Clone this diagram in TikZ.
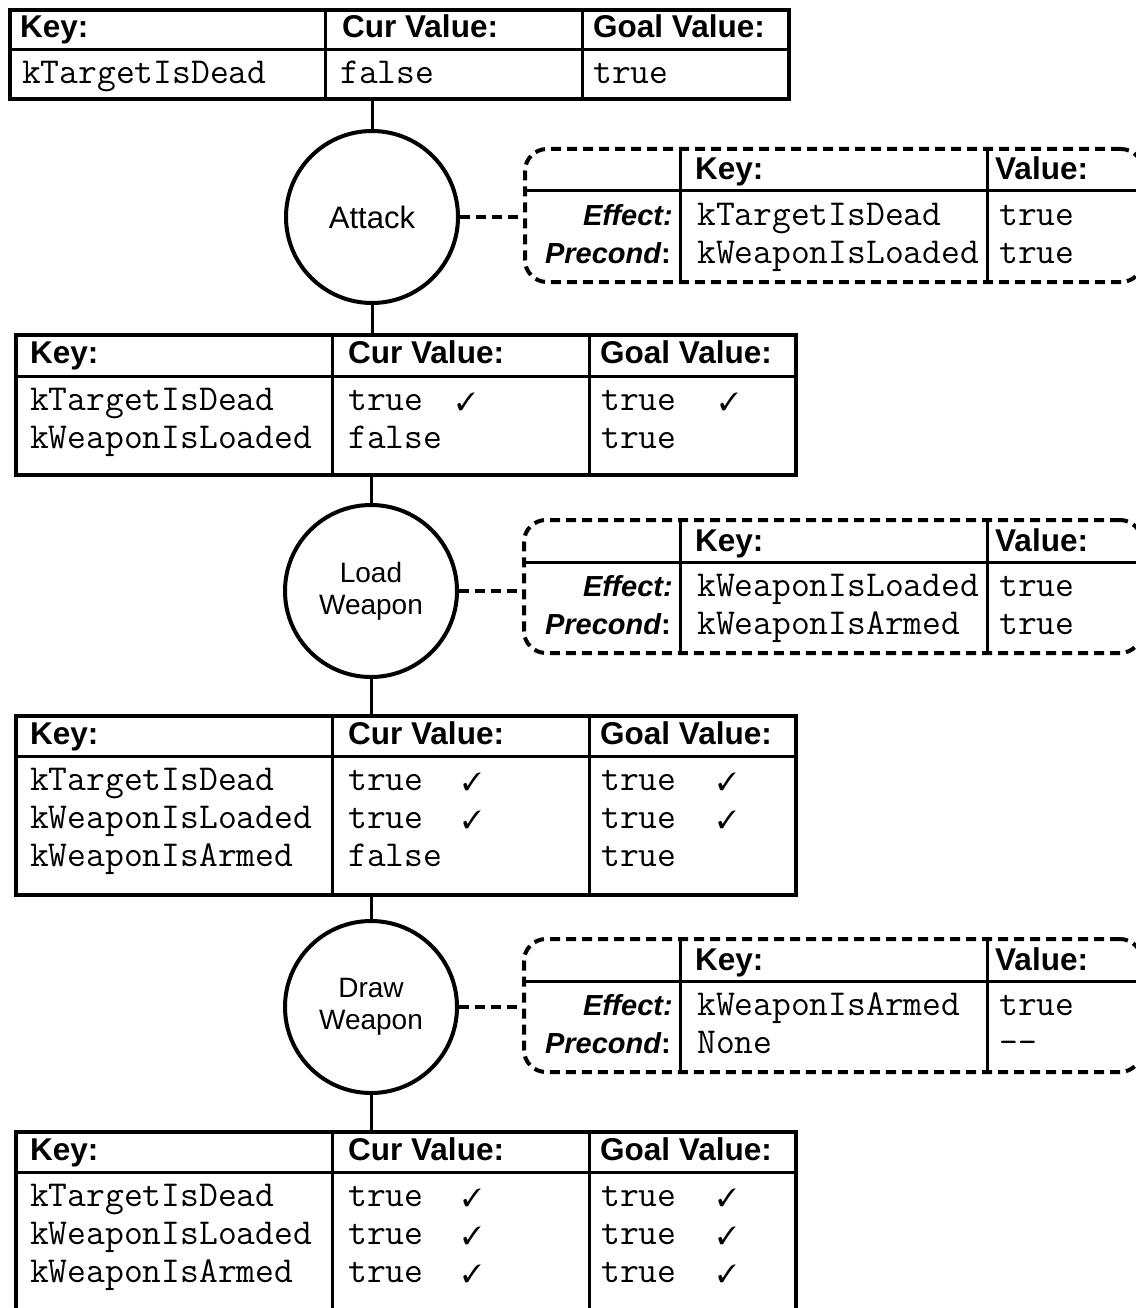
\documentclass[tikz,border=0pt]{standalone}
\usepackage{pifont}
\usepackage{fontspec}
\setmainfont{Liberation Sans}

\begin{document}
\begin{tikzpicture}[
  x=1pt, y=-1pt,
  tbl/.style={rectangle, draw, line width=4pt, anchor=north west,
              minimum width=780pt, inner sep=0pt},
  fx/.style={rectangle, draw, line width=4pt, dash pattern=on 10pt off 6pt,
             rounded corners=22pt, anchor=north west, minimum width=618pt,
             minimum height=133pt, inner sep=0pt},
  act/.style={circle, draw, line width=4pt, minimum size=172pt, inner sep=0pt,
              align=center, font=\fontsize{28}{32}\selectfont},
  rule/.style={line width=3pt},
  link/.style={line width=3pt},
  dlink/.style={line width=3.5pt, dash pattern=on 10pt off 6pt},
  hdr/.style={anchor=base west, inner sep=0pt,
              font=\bfseries\fontsize{31.5}{36}\selectfont},
  val/.style={anchor=base west, inner sep=0pt,
              font=\ttfamily\fontsize{36.5}{40}\selectfont},
  tick/.style={anchor=base, inner sep=0pt,
               font=\fontsize{25}{28}\selectfont},
  lbl/.style={anchor=base east, inner sep=0pt,
              font=\bfseries\fontsize{29}{34}\selectfont}
]
  \useasboundingbox (0,0) rectangle (1135,1308);

  % Start state
  \node[tbl, minimum width=779pt, minimum height=89pt] (t1) at (8,8) {};
  \draw[rule] (t1.west |- 0,50) -- (t1.east |- 0,50);
  \foreach \cx in {325,582}
    \draw[rule] (t1.north -| \cx,0) -- (t1.south -| \cx,0);
  \node[hdr] (t1h1) at (20,38) {Key:};
  \node[hdr] (t1h2) at (342,38) {Cur Value:};
  \node[hdr] (t1h3) at (593,38) {Goal Value:};
  \node[val] (t1k1) at (22,84) {kTargetIsDead};
  \node[val] (t1c1) at (340,84) {false};
  \node[val] (t1g1) at (593,84) {true};

  % Attack
  \node[act, font=\fontsize{31}{36}\selectfont] (atk) at (372,217) {Attack};
  \node[fx] (fx1) at (523,147) {};
  \draw[rule] (fx1.west |- 0,191) -- (fx1.east |- 0,191);
  \foreach \cx in {680,987}
    \draw[rule] (fx1.north -| \cx,0) -- (fx1.south -| \cx,0);
  \node[hdr] (fx1h1) at (695,180) {Key:};
  \node[hdr] (fx1h2) at (995,180) {Value:};
  \node[lbl] (fx1e) at (673,225) {\itshape Effect:};
  \node[lbl] (fx1p) at (671,263) {{\itshape Precond}:};
  \node[val] (fx1k1) at (697,225) {kTargetIsDead};
  \node[val] (fx1v1) at (999,225) {true};
  \node[val] (fx1k2) at (697,263) {kWeaponIsLoaded};
  \node[val] (fx1v2) at (999,263) {true};

  % State after attack
  \node[tbl, minimum height=140pt] (t2) at (14,333) {};
  \draw[rule] (t2.west |- 0,376) -- (t2.east |- 0,376);
  \foreach \cx in {332,589}
    \draw[rule] (t2.north -| \cx,0) -- (t2.south -| \cx,0);
  \node[hdr] (t2h1) at (30,363) {Key:};
  \node[hdr] (t2h2) at (348,363) {Cur Value:};
  \node[hdr] (t2h3) at (600,363) {Goal Value:};
  \foreach \k/\c/\ok [count=\i] in {kTargetIsDead/true/1,
                                    kWeaponIsLoaded/false/0} {
    \pgfmathsetmacro{\yb}{376+34+38*(\i-1)}
    \node[val] (t2k\i) at (30,\yb) {\k};
    \node[val] (t2c\i) at (348,\yb) {\c};
    \node[val] (t2g\i) at (601,\yb) {true};
    \ifnum\ok=1
      \node[tick] (t2m\i) at (466,\yb) {\ding{51}};
      \node[tick] (t2n\i) at (729,\yb) {\ding{51}};
    \fi
  }

  % Load weapon
  \node[act] (load) at (371,591) {Load\\Weapon};
  \node[fx] (fx2) at (522,518) {};
  \draw[rule] (fx2.west |- 0,562) -- (fx2.east |- 0,562);
  \foreach \cx in {680,987}
    \draw[rule] (fx2.north -| \cx,0) -- (fx2.south -| \cx,0);
  \node[hdr] (fx2h1) at (695,551) {Key:};
  \node[hdr] (fx2h2) at (995,551) {Value:};
  \node[lbl] (fx2e) at (673,596) {\itshape Effect:};
  \node[lbl] (fx2p) at (671,634) {{\itshape Precond}:};
  \node[val] (fx2k1) at (697,596) {kWeaponIsLoaded};
  \node[val] (fx2v1) at (999,596) {true};
  \node[val] (fx2k2) at (697,634) {kWeaponIsArmed};
  \node[val] (fx2v2) at (999,634) {true};

  % State after loading
  \node[tbl, minimum height=179pt] (t3) at (14,714) {};
  \draw[rule] (t3.west |- 0,756) -- (t3.east |- 0,756);
  \foreach \cx in {332,589}
    \draw[rule] (t3.north -| \cx,0) -- (t3.south -| \cx,0);
  \node[hdr] (t3h1) at (30,744) {Key:};
  \node[hdr] (t3h2) at (348,744) {Cur Value:};
  \node[hdr] (t3h3) at (600,744) {Goal Value:};
  \foreach \k/\c/\ok [count=\i] in {kTargetIsDead/true/1,
                                    kWeaponIsLoaded/true/1,
                                    kWeaponIsArmed/false/0} {
    \pgfmathsetmacro{\yb}{756+34+38*(\i-1)}
    \node[val] (t3k\i) at (30,\yb) {\k};
    \node[val] (t3c\i) at (348,\yb) {\c};
    \node[val] (t3g\i) at (601,\yb) {true};
    \ifnum\ok=1
      \node[tick] (t3m\i) at (472,\yb) {\ding{51}};
      \node[tick] (t3n\i) at (727,\yb) {\ding{51}};
    \fi
  }

  % Draw weapon
  \node[act] (drw) at (371,1007) {Draw\\Weapon};
  \node[fx] (fx3) at (522,937) {};
  \draw[rule] (fx3.west |- 0,981) -- (fx3.east |- 0,981);
  \foreach \cx in {680,987}
    \draw[rule] (fx3.north -| \cx,0) -- (fx3.south -| \cx,0);
  \node[hdr] (fx3h1) at (695,970) {Key:};
  \node[hdr] (fx3h2) at (995,970) {Value:};
  \node[lbl] (fx3e) at (673,1015) {\itshape Effect:};
  \node[lbl] (fx3p) at (671,1053) {{\itshape Precond}:};
  \node[val] (fx3k1) at (697,1015) {kWeaponIsArmed};
  \node[val] (fx3v1) at (999,1015) {true};
  \node[val] (fx3k2) at (697,1053) {None};
  \node[val] (fx3v2) at (999,1053) {-{}-};

  % Goal reached
  \node[tbl, minimum height=180pt] (t4) at (14,1130) {};
  \draw[rule] (t4.west |- 0,1172) -- (t4.east |- 0,1172);
  \foreach \cx in {332,589}
    \draw[rule] (t4.north -| \cx,0) -- (t4.south -| \cx,0);
  \node[hdr] (t4h1) at (30,1160) {Key:};
  \node[hdr] (t4h2) at (348,1160) {Cur Value:};
  \node[hdr] (t4h3) at (600,1160) {Goal Value:};
  \foreach \k [count=\i] in {kTargetIsDead, kWeaponIsLoaded, kWeaponIsArmed} {
    \pgfmathsetmacro{\yb}{1172+34+38*(\i-1)}
    \node[val] (t4k\i) at (30,\yb) {\k};
    \node[val] (t4c\i) at (348,\yb) {true};
    \node[val] (t4g\i) at (601,\yb) {true};
    \node[tick] (t4m\i) at (472,\yb) {\ding{51}};
    \node[tick] (t4n\i) at (727,\yb) {\ding{51}};
  }

  % Plan links
  \draw[link] (t1.south -| atk.north) -- (atk.north);
  \draw[link] (atk.south) -- (atk.south |- t2.north);
  \draw[link] (t2.south -| load.north) -- (load.north);
  \draw[link] (load.south) -- (load.south |- t3.north);
  \draw[link] (t3.south -| drw.north) -- (drw.north);
  \draw[link] (drw.south) -- (drw.south |- t4.north);
  \draw[dlink] (atk.east) -- (atk.east -| fx1.west);
  \draw[dlink] (load.east) -- (load.east -| fx2.west);
  \draw[dlink] (drw.east) -- (drw.east -| fx3.west);
\end{tikzpicture}
\end{document}
